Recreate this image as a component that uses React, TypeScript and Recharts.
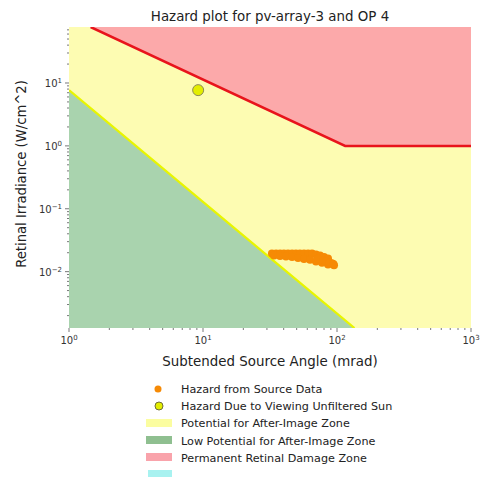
import React from "react"
import {
  ComposedChart,
  Area,
  Line,
  Scatter,
  XAxis,
  YAxis,
} from "recharts"

// axis limits (log-log)
const X_MIN = 1
const X_MAX = 1000
const Y_MIN = 0.00127
const Y_MAX = 77.7

// boundary of the permanent retinal damage zone
const damageAngles = [1.45, 115, 1000]
const damageEdge = [77.7, 1, 1]

// boundary between low potential / potential for after-image
const afterImageAngles = [1, 32, 135]
const afterImageEdge = [7.7, 0.0163, 0.00127]

// hazard from source data (mrad, W/cm^2)
const sourceAngles = [
  32.7, 35.1, 37.6, 40.2, 43.1, 46.2, 49.4, 52.9, 56.7, 60.8, 65.1, 69.7, 74.7, 80.0, 85.7,
  33.9, 37.6, 41.6, 46.2, 51.2, 56.7, 62.9, 69.7, 77.3, 85.7, 95.0,
  72.0, 79.0, 83.0, 88.0, 91.5, 94.0,
]
const sourceIrradiance = [
  0.0195, 0.0195, 0.0195, 0.0195, 0.0195, 0.0195, 0.0195, 0.0195, 0.0195, 0.0195, 0.0195,
  0.0188, 0.0181, 0.0171, 0.0162,
  0.0181, 0.0178, 0.0174, 0.0171, 0.0165, 0.0159, 0.0154, 0.0145, 0.0138, 0.0130, 0.0126,
  0.0160, 0.0152, 0.0146, 0.0140, 0.0136, 0.0132,
]

// hazard due to viewing unfiltered sun
const sunAngles = [9.2]
const sunIrradiance = [7.7]

const xMajor = [1, 10, 100, 1000]
const yMajor = [0.01, 0.1, 1, 10]
const mantissas = [2, 3, 4, 5, 6, 7, 8, 9]

const legendLabels = [
  "Hazard from Source Data",
  "Hazard Due to Viewing Unfiltered Sun",
  "Potential for After-Image Zone",
  "Low Potential for After-Image Zone",
  "Permanent Retinal Damage Zone",
]

const YELLOW_ZONE = "#fdfcb2"
const GREEN_ZONE = "#a9d3ae"
const RED_ZONE = "#fca9aa"
const ORANGE = "#f68a05"
const FONT = "DejaVu Sans"

const xMinor = [1, 10, 100].flatMap((d) => mantissas.map((m) => m * d))
const yMinor = [0.001, 0.01, 0.1, 1, 10]
  .flatMap((d) => mantissas.map((m) => +(m * d).toPrecision(3)))
  .filter((v) => v >= Y_MIN && v <= Y_MAX)

const yellowData = [
  { angle: X_MIN, band: [Y_MIN, Y_MAX] },
  { angle: X_MAX, band: [Y_MIN, Y_MAX] },
]
const redData = damageAngles.map((a, i) => ({ angle: a, band: [damageEdge[i], Y_MAX], edge: damageEdge[i] }))
const greenData = afterImageAngles.map((a, i) => ({ angle: a, band: [Y_MIN, afterImageEdge[i]], edge: afterImageEdge[i] }))
const sourceData = sourceAngles.map((a, i) => ({ angle: a, irr: sourceIrradiance[i] }))
const sunData = sunAngles.map((a, i) => ({ angle: a, irr: sunIrradiance[i] }))

const expOf = (v: number) => Math.round(Math.log10(v))
const isMajor = (v: number, majors: number[]) => majors.some((m) => Math.abs(m - v) / m < 1e-6)

const XTick = (props: any) => {
  const { x, y, payload } = props
  const major = isMajor(payload.value, xMajor)
  return (
    <g>
      <line x1={x} x2={x} y1={y} y2={y + (major ? 4 : 2)} stroke="#555" strokeWidth={0.8} />
      {major && (
        <text x={x} y={y + 16} textAnchor="middle" fontSize={10} fill="#333" fontFamily={FONT}>
          10<tspan dy={-4} fontSize={7}>{String(expOf(payload.value)).replace("-", "\u2212")}</tspan>
        </text>
      )}
    </g>
  )
}

const YTick = (props: any) => {
  const { x, y, payload } = props
  const major = isMajor(payload.value, yMajor)
  return (
    <g>
      <line x1={x - (major ? 4 : 2)} x2={x} y1={y} y2={y} stroke="#555" strokeWidth={0.8} />
      {major && (
        <text x={x - 7} y={y + 4} textAnchor="end" fontSize={10} fill="#333" fontFamily={FONT}>
          10<tspan dy={-4} fontSize={7}>{String(expOf(payload.value)).replace("-", "\u2212")}</tspan>
        </text>
      )}
    </g>
  )
}

export default function App() {
  return (
    <div style={{ position: "absolute", left: 0, top: 0, width: 480, height: 477, background: "#fff" }}>
      <ComposedChart
        width={480}
        height={477}
        margin={{ top: 27, right: 9, bottom: 119, left: 9 }}
      >
        <XAxis
          dataKey="angle"
          type="number"
          scale="log"
          domain={[X_MIN, X_MAX]}
          allowDataOverflow
          ticks={[...xMajor, ...xMinor]}
          interval={0}
          tick={<XTick />}
          tickSize={0}
          tickMargin={0}
          axisLine={false}
          tickLine={false}
          height={30}
        />
        <YAxis
          type="number"
          scale="log"
          domain={[Y_MIN, Y_MAX]}
          allowDataOverflow
          ticks={[...yMajor, ...yMinor]}
          interval={0}
          tick={<YTick />}
          tickSize={0}
          tickMargin={0}
          axisLine={false}
          tickLine={false}
          width={60}
        />
        <Area data={yellowData} dataKey="band" type="linear" fill={YELLOW_ZONE} fillOpacity={1} stroke="none" isAnimationActive={false} />
        <Area data={redData} dataKey="band" type="linear" fill={RED_ZONE} fillOpacity={1} stroke="none" isAnimationActive={false} />
        <Area data={greenData} dataKey="band" type="linear" fill={GREEN_ZONE} fillOpacity={1} stroke="none" isAnimationActive={false} />
        <Line data={greenData} dataKey="edge" type="linear" stroke="#e8f500" strokeWidth={2.2} dot={false} isAnimationActive={false} />
        <Line data={redData} dataKey="edge" type="linear" stroke="#e8141c" strokeWidth={2.5} dot={false} isAnimationActive={false} />
        <Scatter
          data={sourceData}
          dataKey="irr"
          isAnimationActive={false}
          shape={(p: any) => <circle cx={p.cx} cy={p.cy} r={4} fill={ORANGE} />}
        />
        <Scatter
          data={sunData}
          dataKey="irr"
          isAnimationActive={false}
          shape={(p: any) => <circle cx={p.cx} cy={p.cy} r={5.5} fill="#e3ee00" stroke="#8c8a55" strokeWidth={1} />}
        />
      </ComposedChart>

      <svg width={480} height={477} style={{ position: "absolute", left: 0, top: 0, pointerEvents: "none" }}>
        <text x={270} y={21} textAnchor="middle" fontSize={13.4} fill="#222" fontFamily={FONT}>
          Hazard plot for pv-array-3 and OP 4
        </text>
        <text x={270} y={366} textAnchor="middle" fontSize={13.4} fill="#222" fontFamily={FONT}>
          Subtended Source Angle (mrad)
        </text>
        <text
          transform="translate(26,174) rotate(-90)"
          textAnchor="middle"
          fontSize={13.2}
          fill="#222"
          fontFamily={FONT}
        >
          Retinal Irradiance (W/cm^2)
        </text>

        {/* legend */}
        <circle cx={158} cy={389} r={3.5} fill={ORANGE} />
        <circle cx={159} cy={406} r={4} fill="#e3ee00" stroke="#6f6d3a" strokeWidth={1} />
        <rect x={146} y={419} width={26} height={8} fill="#fbfda0" />
        <rect x={146} y={436} width={26} height={8} fill="#8fbf90" />
        <rect x={146} y={453} width={26} height={8} fill="#f9a3ab" />
        <rect x={148} y={470} width={24} height={8} fill="#a8f2f0" />
        {legendLabels.map((label, i) => (
          <text key={label} x={181} y={393 + i * 17.2} fontSize={11.2} fill="#222" fontFamily={FONT}>
            {label}
          </text>
        ))}
      </svg>
    </div>
  )
}
